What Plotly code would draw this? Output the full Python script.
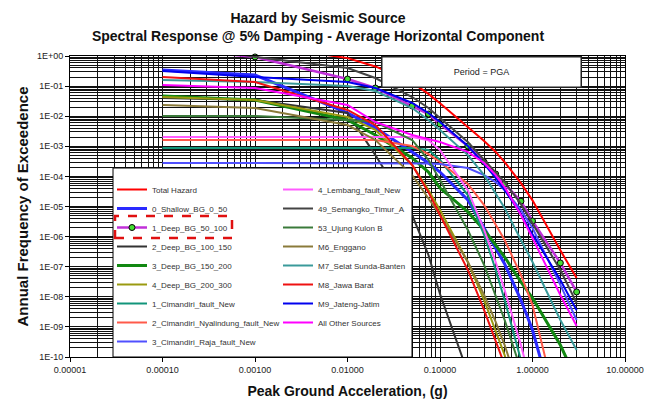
import plotly.graph_objects as go

# ---------------- data ----------------
PGA = [0.0001, 0.001, 0.01, 0.02, 0.05, 0.075, 0.1, 0.2, 0.3, 0.4, 0.5, 0.75, 1.0, 2.0, 3.0]

total_hazard    = [4.0, 2.5, 0.85, 0.45, 0.13, 0.055, 0.027, 4.5e-3, 1.5e-3, 6.5e-4, 3.0e-4, 6.0e-5, 1.6e-5, 3.5e-7, 4.2e-8]
shallow_bg_0_50 = [0.343, 0.234, 0.0128, 4.1e-3, 6.5e-4, 2.8e-4, 1.4e-4, 1.64e-5, 1.93e-6, 4.2e-7, 1.23e-7, 7.8e-9, 7.9e-10, 3.7e-13, 8.0e-15]
deep_bg_50_100  = [1.85, 0.93, 0.172, 0.0865, 0.0218, 0.0118, 0.0055, 1.02e-3, 3.0e-4, 1.2e-4, 5.6e-5, 1.5e-5, 3.3e-6, 1.33e-7, 1.45e-8]
deep_bg_100_150 = [0.0402, 0.0345, 0.0128, 5.1e-4, 5.2e-6, 2.45e-7, 1.24e-8, 3.2e-11, 1e-12, 1e-13, 1e-14, 1e-15, 1e-16, 1e-18, 1e-19]
deep_bg_150_200 = [0.0469, 0.0345, 7.5e-3, 2.37e-3, 4.1e-4, 1.4e-4, 4.1e-5, 6.6e-6, 1.66e-6, 5.3e-7, 2.1e-7, 3.1e-8, 9.1e-9, 2.5e-10, 1.7e-11]
deep_bg_200_300 = [0.0434, 0.0345, 9.4e-3, 3.5e-3, 2.4e-4, 3.5e-5, 7.7e-6, 1.43e-7, 7.8e-9, 7.9e-10, 1.16e-10, 1.7e-12, 8.1e-14, 1e-16, 1e-17]
cimandiri       = [8.8e-4, 8.8e-4, 8.8e-4, 8.8e-4, 8.8e-4, 7.5e-4, 3.5e-4, 2.4e-5, 1.13e-6, 7.8e-8, 7.8e-9, 7.9e-11, 3.7e-12, 1e-14, 1e-15]
nyalindung      = [1.62e-3, 1.62e-3, 1.62e-3, 1.62e-3, 1.02e-3, 5.5e-4, 3.0e-4, 5.6e-5, 1.12e-5, 2.4e-6, 7.7e-7, 5.3e-8, 5.3e-9, 8.1e-13, 8.2e-15]
raja            = [2.8e-4, 2.8e-4, 2.8e-4, 2.8e-4, 2.75e-4, 2.7e-4, 2.6e-4, 1.9e-4, 1.11e-4, 6.5e-5, 3.5e-5, 7.7e-6, 1.93e-6, 2.5e-8, 1.7e-9]
lembang         = [2.04e-3, 2.04e-3, 2.04e-3, 2.04e-3, 2.04e-3, 1.6e-3, 7.5e-4, 3.5e-5, 1.66e-6, 1.43e-7, 1.68e-8, 2.5e-10, 8.0e-12, 1e-14, 1e-15]
semangko        = [3.4, 0.93, 0.40, 0.186, 0.0434, 0.0187, 8.7e-3, 1.39e-3, 3.5e-4, 1.4e-4, 6.5e-5, 1.2e-5, 2.8e-6, 7.8e-8, 6.2e-9]
ujung_kulon     = [0.0102, 0.0102, 7.5e-3, 6.4e-3, 1.62e-3, 3.5e-4, 7.6e-5, 1.66e-6, 1.14e-7, 1.15e-8, 1.7e-9, 3.7e-11, 1.7e-12, 1e-15, 1e-16]
enggano         = [0.0236, 0.0187, 5.1e-3, 1.62e-3, 1.11e-4, 1.9e-5, 5.2e-6, 1.43e-7, 1.15e-8, 1.46e-9, 2.5e-10, 5.5e-12, 3.7e-13, 1e-16, 1e-17]
selat_sunda     = [0.16, 0.137, 0.10, 0.0687, 0.0187, 7.5e-3, 3.5e-3, 5.1e-4, 1.1e-4, 2.8e-5, 8.9e-6, 7.7e-7, 1.43e-7, 1.7e-9, 1.7e-10]
jawa_barat      = [0.20, 0.137, 0.0161, 5.1e-3, 2.4e-4, 3.0e-5, 5.2e-6, 7.8e-8, 3.6e-9, 3.7e-10, 5.4e-11, 1e-12, 1e-13, 1e-16, 1e-17]
jateng_jatim    = [0.317, 0.20, 0.137, 0.0865, 0.0275, 0.0128, 6.4e-3, 1.02e-3, 2.6e-4, 8.9e-5, 3.5e-5, 5.6e-6, 1.2e-6, 3.6e-8, 3.6e-9]
all_other       = [0.109, 0.0865, 0.0236, 6.4e-3, 2.37e-3, 1.75e-3, 1.39e-3, 6.5e-4, 2.8e-4, 1.11e-4, 4.4e-5, 5.2e-6, 9.0e-7, 1.15e-8, 1.07e-9]

x_tickvals = [0.00001, 0.0001, 0.001, 0.01, 0.1, 1, 10]
x_ticktext = ["0.00001", "0.00010", "0.00100", "0.01000", "0.10000", "1.00000", "10.00000"]
y_tickvals = [1, 1e-1, 1e-2, 1e-3, 1e-4, 1e-5, 1e-6, 1e-7, 1e-8, 1e-9, 1e-10]
y_ticktext = ["1E+00", "1E-01", "1E-02", "1E-03", "1E-04", "1E-05", "1E-06", "1E-07", "1E-08", "1E-09", "1E-10"]

# (name, values, colour, width, legend)
series = [
    ("Total Hazard", total_hazard, "#ff0000", 2, "legend"),
    ("0_Shallow_BG_0_50", shallow_bg_0_50, "#2a2aff", 3, "legend"),
    ("1_Deep_BG_50_100", deep_bg_50_100, "#c030d8", 2.5, "legend"),
    ("2_Deep_BG_100_150", deep_bg_100_150, "#333333", 2, "legend"),
    ("3_Deep_BG_150_200", deep_bg_150_200, "#118811", 3, "legend"),
    ("4_Deep_BG_200_300", deep_bg_200_300, "#9a9a10", 2, "legend"),
    ("1_Cimandiri_fault_New", cimandiri, "#12957a", 2, "legend"),
    ("2_Cimandiri_Nyalindung_fault_New", nyalindung, "#ff5a4a", 2, "legend"),
    ("3_Cimandiri_Raja_fault_New", raja, "#5050ff", 2, "legend"),
    ("4_Lembang_fault_New", lembang, "#ff5cff", 2, "legend2"),
    ("49_Semangko_Timur_A", semangko, "#444444", 2, "legend2"),
    ("53_Ujung Kulon B", ujung_kulon, "#3a7a3a", 2, "legend2"),
    ("M6_Enggano", enggano, "#8a7a3a", 2, "legend2"),
    ("M7_Selat Sunda-Banten", selat_sunda, "#3a9a9a", 2, "legend2"),
    ("M8_Jawa Barat", jawa_barat, "#ee1111", 2, "legend2"),
    ("M9_Jateng-Jatim", jateng_jatim, "#0000ee", 2, "legend2"),
    ("All Other Sources", all_other, "#ff00ff", 2, "legend2"),
]

fig = go.Figure()
for name, vals, color, width, leg in series:
    if name == "1_Deep_BG_50_100":
        fig.add_trace(go.Scatter(
            x=PGA, y=vals, mode="lines+markers", name=name, legend=leg, legendgroup=name,
            line=dict(color=color, width=width),
            marker=dict(symbol="circle", size=6, color="#44dd33", line=dict(color="#000000", width=1)),
            cliponaxis=False))
    else:
        fig.add_trace(go.Scatter(
            x=PGA, y=vals, mode="lines", name=name, legend=leg, legendgroup=name,
            line=dict(color=color, width=width)))

minor_x = [m * 10.0 ** e for e in range(-5, 1) for m in range(2, 10)]
minor_y = [m * 10.0 ** e for e in range(-10, 0) for m in range(2, 10)]

FONT = "Liberation Sans, Arial, sans-serif"
L, R, T, B = 70, 31, 56, 43
W, H = 656, 400
pw, ph = W - L - R, H - T - B


def px_x(p):
    return (p - L) / pw


def px_y(p):
    return (H - B - p) / ph


axis_common = dict(
    type="log", automargin=False, showgrid=True, gridcolor="#111111", gridwidth=1,
    ticks="outside", ticklen=4, tickcolor="#000000", tickwidth=1,
    showline=True, linecolor="#000000", linewidth=1, mirror=True,
    tickfont=dict(family=FONT, size=9, color="#222222"),
)

fig.update_layout(
    width=W, height=H,
    margin=dict(l=L, r=R, t=T, b=B, autoexpand=False),
    paper_bgcolor="white", plot_bgcolor="white",
    font=dict(family=FONT, color="#222222"),
    title=dict(text="<b>Hazard by Seismic Source<br>Spectral Response @ 5% Damping - Average Horizontal Component</b>",
               font=dict(family=FONT, size=14, color="#111111"),
               x=318 / W, xanchor="center", xref="container",
               y=1 - 23 / H, yanchor="top", yref="container", pad=dict(t=0, b=0), automargin=False),
    xaxis=dict(axis_common, range=[-5, 1], tickmode="array", tickvals=x_tickvals, ticktext=x_ticktext,
               minor=dict(tickmode="array", tickvals=minor_x, showgrid=True, gridcolor="#111111", gridwidth=1, ticks=""),
               title=dict(text="<b>Peak Ground Acceleration, (g)</b>", font=dict(family=FONT, size=14, color="#111111"), standoff=12)),
    yaxis=dict(axis_common, range=[-10, 0], tickmode="array", tickvals=y_tickvals, ticktext=y_ticktext,
               minor=dict(tickmode="array", tickvals=minor_y, showgrid=True, gridcolor="#111111", gridwidth=1, ticks=""),
               title=dict(text="<b>Annual Frequency of Exceedence</b>", font=dict(family=FONT, size=15, color="#111111"), standoff=4)),
    legend=dict(x=px_x(112), y=px_y(175), xanchor="left", yanchor="top", bgcolor="rgba(0,0,0,0)",
                borderwidth=0, font=dict(family=FONT, size=8, color="#333333"), tracegroupgap=0, itemwidth=30),
    legend2=dict(x=px_x(278), y=px_y(175), xanchor="left", yanchor="top", bgcolor="rgba(0,0,0,0)",
                 borderwidth=0, font=dict(family=FONT, size=8, color="#333333"), tracegroupgap=0, itemwidth=30),
    shapes=[
        dict(type="rect", xref="paper", yref="paper", x0=px_x(113), x1=px_x(412), y0=0, y1=px_y(168),
             fillcolor="white", line=dict(color="#000000", width=1), layer="above"),
        dict(type="rect", xref="paper", yref="paper", x0=px_x(115), x1=px_x(232), y0=px_y(238), y1=px_y(216),
             fillcolor="rgba(0,0,0,0)", line=dict(color="#e01010", width=2.5, dash="dash"), layer="above"),
    ],
    annotations=[
        dict(text="Period = PGA", xref="paper", yref="paper", x=px_x(481), y=px_y(72),
             xanchor="center", yanchor="middle", showarrow=False, width=196, height=27,
             bgcolor="white", bordercolor="#222222", borderwidth=1.5,
             font=dict(family=FONT, size=9, color="#222222")),
    ],
)

fig.write_html("out.html")
